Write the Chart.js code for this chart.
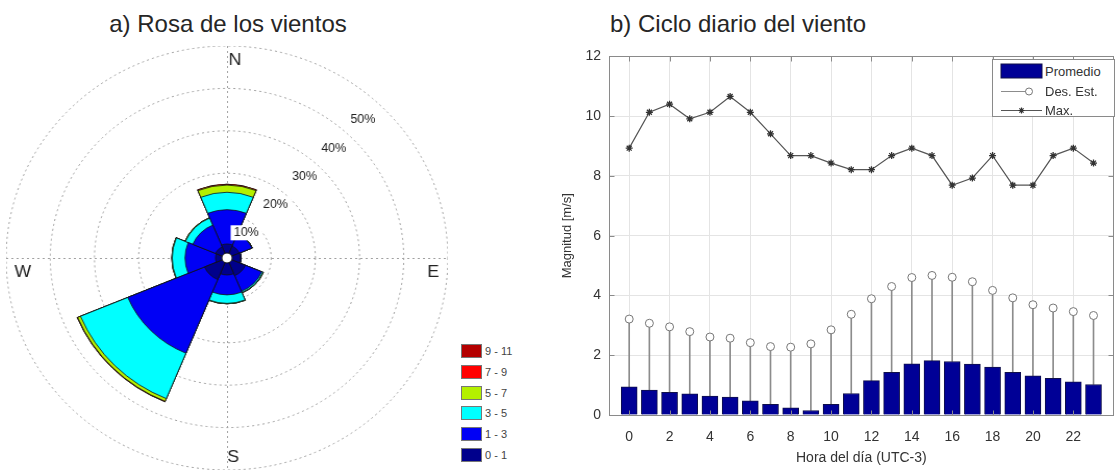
<!DOCTYPE html>
<html>
<head>
<meta charset="utf-8">
<script src="https://cdn.jsdelivr.net/npm/chart.js@4.4.0/dist/chart.umd.min.js"></script>
<style>
  body { margin: 0; background: #fff; width: 1119px; height: 470px; overflow: hidden; position: relative;
         font-family: "Liberation Sans", Arial, Helvetica, sans-serif; color: #222; }
  .title { position: absolute; top: 12px; font-size: 24px; line-height: 24px; white-space: nowrap; color: #262626; }
  #rose { position: absolute; left: 15px; top: 46px; transform: scaleX(1.042); }
  #cycle { position: absolute; left: 540px; top: 40px; }
  .rk { position: absolute; left: 461px; width: 21px; height: 14px; box-sizing: border-box; border: 1px solid #777; }
  .rt { position: absolute; left: 485px; font-size: 11px; line-height: 14px; color: #444; }
  #leg { position: absolute; left: 992px; top: 59px; width: 123px; height: 58px; box-sizing: border-box;
         border: 1px solid #8a8a8a; background: #fff; }
  #leg span { position: absolute; left: 52px; font-size: 13px; line-height: 15px; color: #333; }
  #leg svg { position: absolute; left: 0; top: 0; }
</style>
</head>
<body>
<div class="title" style="left:0;width:456px;text-align:center;">a) Rosa de los vientos</div>
<div class="title" style="left:610px;">b) Ciclo diario del viento</div>

<canvas id="rose" width="424" height="424"></canvas>
<canvas id="cycle" width="579" height="430"></canvas>

<div id="roseLegend"></div>

<div id="leg">
  <svg width="121" height="56">
    <rect x="8" y="4" width="41" height="14" fill="#000096" stroke="#10104a" stroke-width="1"/>
    <line x1="8" y1="31.5" x2="36" y2="31.5" stroke="#8c8c8c" stroke-width="1"/>
    <circle cx="36" cy="31.5" r="3.5" fill="#fff" stroke="#777" stroke-width="1"/>
    <line x1="8" y1="50.5" x2="49" y2="50.5" stroke="#555" stroke-width="1.2"/>
    <path d="M25.5 50.5h6M28.5 47.5v6M26.4 48.4l4.2 4.2M30.6 48.4l-4.2 4.2" stroke="#333" stroke-width="1.2"/>
  </svg>
  <span style="top:4px">Promedio</span>
  <span style="top:24px">Des. Est.</span>
  <span style="top:43px">Max.</span>
</div>

<script>
// ---- a) rosa de los vientos: % de ocurrencia por dirección y rango de velocidad [m/s]
var directions = ['N', 'NE', 'E', 'SE', 'S', 'SW', 'W', 'NW'];
var speedClasses = ['0 - 1', '1 - 3', '3 - 5', '5 - 7', '7 - 9', '9 - 11'];
var rose0to1 = [3.3, 3.0, 3.0, 4.5, 4.0, 5.5, 2.6, 2.8];
var rose1to3 = [8.1, 3.1, 0.2, 4.0, 4.7, 18.8, 6.9, 5.6];
var rose3to5 = [4.1, 0.1, 0.0, 0.3, 2.0, 11.6, 2.9, 1.8];
var rose5to7 = [1.7, 0.0, 0.0, 0.1, 0.1, 0.7, 0.1, 0.1];
var rose7to9 = [0.2, 0.0, 0.0, 0.0, 0.0, 0.1, 0.0, 0.0];
var rose9to11 = [0, 0, 0, 0, 0, 0, 0, 0];
var roseRings = [10, 20, 30, 40, 50];
var roseColors = ['#00008c', '#0000f5', '#00ffff', '#b4f000', '#ff0000', '#b40000'];

// ---- b) ciclo diario
var hours = [0,1,2,3,4,5,6,7,8,9,10,11,12,13,14,15,16,17,18,19,20,21,22,23];
var promedio = [0.94,0.83,0.76,0.71,0.63,0.60,0.47,0.36,0.24,0.15,0.36,0.72,1.15,1.43,1.71,1.82,1.79,1.70,1.60,1.43,1.31,1.23,1.11,1.02];
var desEst = [3.21,3.07,2.95,2.79,2.61,2.57,2.42,2.29,2.27,2.38,2.85,3.37,3.89,4.30,4.60,4.67,4.61,4.46,4.17,3.92,3.69,3.58,3.46,3.33];
var maximo = [8.93,10.13,10.40,9.91,10.13,10.66,10.13,9.41,8.68,8.68,8.43,8.21,8.21,8.68,8.93,8.68,7.69,7.93,8.68,7.69,7.69,8.68,8.93,8.43];
var xTicks = [0,2,4,6,8,10,12,14,16,18,20,22];
var yTicks = [0,2,4,6,8,10,12];

var fam = '"Liberation Sans", Arial, Helvetica, sans-serif';

// leyenda de la rosa (de arriba hacia abajo: 9-11 ... 0-1)
var rl = document.getElementById('roseLegend');
for (var k = speedClasses.length - 1; k >= 0; k--) {
	var row = speedClasses.length - 1 - k;
	var yc = 350.7 + 20.9 * row;
	rl.innerHTML += '<div class="rk" style="top:' + (yc - 7) + 'px;background:' + roseColors[k] + '"></div>' +
		'<div class="rt" style="top:' + (yc - 7) + 'px">' + speedClasses[k] + '</div>';
}

// capas acumuladas (la menor se dibuja arriba)
var layers = [rose0to1, rose1to3, rose3to5, rose5to7, rose7to9, rose9to11];
var acc = directions.map(function(){ return 0; });
var roseSets = layers.map(function(arr, i) {
	acc = acc.map(function(a, j){ return a + arr[j]; });
	return {
		label: speedClasses[i],
		data: acc.slice(),
		backgroundColor: roseColors[i],
		borderColor: '#111',
		borderWidth: 0.8
	};
});

var roseDecor = {
	id: 'roseDecor',
	beforeDatasetsDraw: function(chart) {
		var r = chart.scales.r, ctx = chart.ctx;
		var cx = r.xCenter, cy = r.yCenter, R = r.drawingArea;
		ctx.save();
		ctx.strokeStyle = '#a0a0a0';
		ctx.lineWidth = 1;
		ctx.setLineDash([2, 3]);
		ctx.beginPath();
		ctx.moveTo(cx + 0.5, cy - R); ctx.lineTo(cx + 0.5, cy + R);
		ctx.moveTo(cx - R, cy + 0.5); ctx.lineTo(cx + R, cy + 0.5);
		ctx.stroke();
		ctx.restore();
	},
	afterDatasetsDraw: function(chart) {
		var r = chart.scales.r, ctx = chart.ctx;
		var cx = r.xCenter, cy = r.yCenter;
		ctx.save();
		// hueco central
		ctx.beginPath();
		ctx.arc(cx, cy, 5, 0, Math.PI * 2);
		ctx.fillStyle = '#fff';
		ctx.fill();
		ctx.strokeStyle = '#111';
		ctx.lineWidth = 1;
		ctx.stroke();
		// etiquetas de porcentaje
		ctx.font = '12px ' + fam;
		ctx.textAlign = 'center';
		ctx.textBaseline = 'middle';
		roseRings.forEach(function(v) {
			var d = r.getDistanceFromCenterForValue(v);
			var lx = cx + 0.66 * d - 9.5, ly = cy - 0.665 * d + 3;
			var txt = v + '%';
			var w = ctx.measureText(txt).width;
			ctx.fillStyle = '#fff';
			ctx.fillRect(lx - w / 2 - 3, ly - 7.5, w + 6, 15);
			ctx.fillStyle = '#222';
			ctx.fillText(txt, lx, ly);
		});
		// puntos cardinales
		ctx.font = '17px ' + fam;
		ctx.fillStyle = '#222';
		ctx.fillText('N', cx + 7.7, cy - 197.5);
		ctx.fillText('S', cx + 6, cy + 199.5);
		ctx.fillText('W', cx - 196, cy + 14.5);
		ctx.fillText('E', cx + 198, cy + 14.5);
		ctx.restore();
	}
};

new Chart(document.getElementById('rose'), {
	type: 'polarArea',
	data: { labels: directions, datasets: roseSets },
	options: {
		responsive: false,
		animation: false,
		layout: { padding: 0 },
		plugins: { legend: { display: false }, tooltip: { enabled: false } },
		scales: {
			r: {
				min: 0,
				max: 50,
				startAngle: -22.5,
				ticks: { display: false, stepSize: 10 },
				grid: { circular: true, color: '#a0a0a0', lineWidth: 1 },
				border: { dash: [2, 3] },
				angleLines: { display: false },
				pointLabels: { display: false }
			}
		}
	},
	plugins: [roseDecor]
});

// marco y marcas internas al estilo matlab
var frame = {
	id: 'frame',
	afterDraw: function(chart) {
		var ctx = chart.ctx, a = chart.chartArea, x = chart.scales.x, y = chart.scales.y;
		ctx.save();
		ctx.strokeStyle = '#8a8a8a';
		ctx.lineWidth = 1;
		var L = Math.round(a.left) + 0.5, T = Math.round(a.top) + 0.5;
		var Rr = Math.round(a.right) - 0.5, B = Math.round(a.bottom) + 0.5;
		ctx.strokeRect(L, T, Rr - L, B - T);
		ctx.beginPath();
		xTicks.forEach(function(v) {
			var px = Math.round(x.getPixelForValue(v)) + 0.5;
			ctx.moveTo(px, T); ctx.lineTo(px, T + 5);
			ctx.moveTo(px, B); ctx.lineTo(px, B - 5);
		});
		yTicks.forEach(function(v) {
			var py = Math.round(y.getPixelForValue(v)) + 0.5;
			ctx.moveTo(L, py); ctx.lineTo(L + 5, py);
			ctx.moveTo(Rr, py); ctx.lineTo(Rr - 5, py);
		});
		ctx.stroke();
		ctx.restore();
	}
};

new Chart(document.getElementById('cycle'), {
	type: 'bar',
	data: {
		datasets: [
			{
				type: 'line',
				label: 'Max.',
				data: hours.map(function(h, i){ return { x: h, y: maximo[i] }; }),
				borderColor: '#555',
				borderWidth: 1.2,
				pointStyle: 'star',
				pointRadius: 3.5,
				pointBorderColor: '#333',
				pointBorderWidth: 1.3,
				order: 0
			},
			{
				type: 'line',
				label: 'Des. Est.',
				data: hours.map(function(h, i){ return { x: h, y: desEst[i] }; }),
				showLine: false,
				pointStyle: 'circle',
				pointRadius: 4,
				pointBackgroundColor: '#fff',
				pointBorderColor: '#777',
				pointBorderWidth: 1,
				order: 1
			},
			{
				label: 'Promedio',
				data: hours.map(function(h, i){ return { x: h, y: promedio[i] }; }),
				backgroundColor: '#000096',
				borderColor: '#10104a',
				borderWidth: 1,
				barThickness: 16,
				grouped: false,
				order: 2
			},
			{
				label: 'err',
				data: hours.map(function(h, i){ return { x: h, y: [promedio[i], desEst[i]] }; }),
				backgroundColor: '#8c8c8c',
				barThickness: 1,
				grouped: false,
				order: 3
			}
		]
	},
	options: {
		responsive: false,
		animation: false,
		layout: { padding: { top: 12, right: 2, left: 0, bottom: 0 } },
		plugins: { legend: { display: false }, tooltip: { enabled: false } },
		scales: {
			x: {
				type: 'linear',
				min: -1,
				max: 24,
				offset: false,
				afterBuildTicks: function(s){ s.ticks = xTicks.map(function(v){ return { value: v }; }); },
				afterFit: function(s){ s.height = 55; },
				ticks: { font: { size: 14, family: fam }, color: '#333', padding: 14, maxRotation: 0, autoSkip: false },
				grid: { color: '#e4e4e4', drawTicks: false, offset: false },
				border: { display: false },
				title: { display: true, text: 'Hora del día (UTC-3)', font: { size: 14, family: fam }, color: '#333',
					padding: { top: 0, bottom: 3 } }
			},
			y: {
				min: 0,
				max: 12,
				afterBuildTicks: function(s){ s.ticks = yTicks.map(function(v){ return { value: v }; }); },
				afterFit: function(s){ s.width = 69; },
				ticks: { font: { size: 14, family: fam }, color: '#333', padding: 8 },
				grid: { color: '#e4e4e4', drawTicks: false },
				border: { display: false },
				title: { display: true, text: 'Magnitud [m/s]', font: { size: 13, family: fam }, color: '#333',
					padding: { top: 20, bottom: 0 } }
			}
		}
	},
	plugins: [frame]
});
</script>
</body>
</html>
